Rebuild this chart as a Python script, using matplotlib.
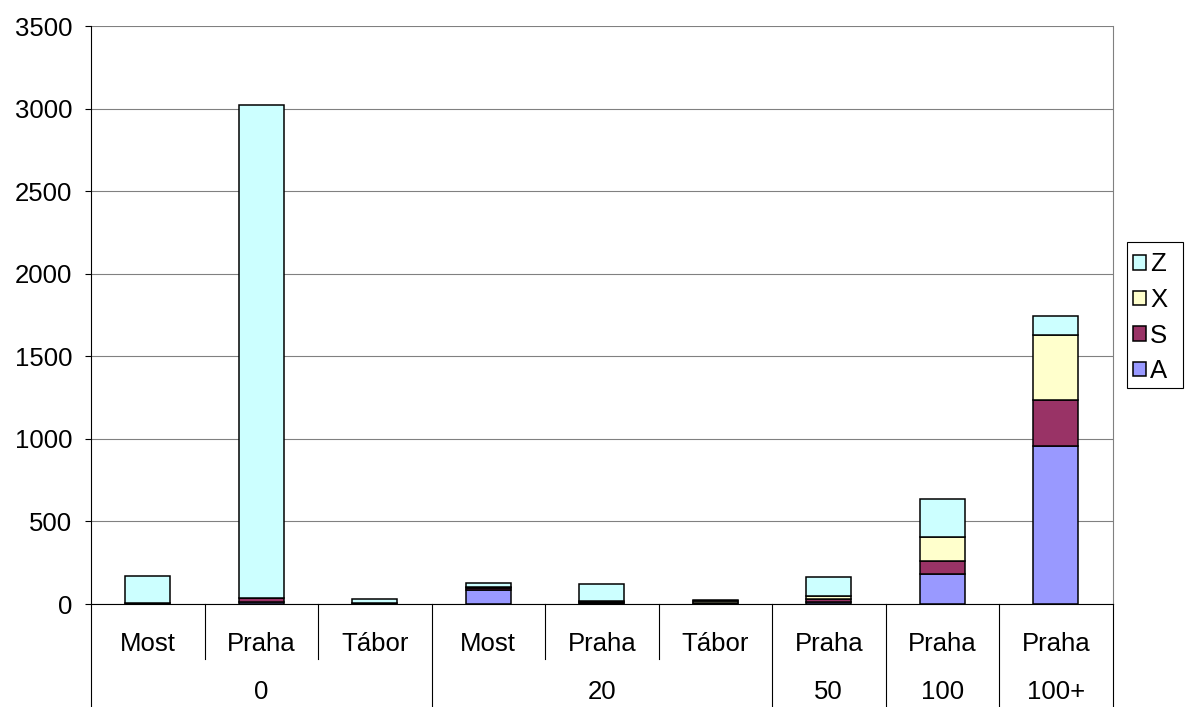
import numpy as np
import matplotlib
matplotlib.use("Agg")
import matplotlib.pyplot as plt
from matplotlib.transforms import blended_transform_factory
from matplotlib.patches import Patch, Rectangle

plt.rcParams['font.family'] = ['Liberation Sans', 'DejaVu Sans']

# data
inner_labels = ['Most', 'Praha', 'Tábor', 'Most', 'Praha', 'Tábor', 'Praha', 'Praha', 'Praha']
outer_labels = ['0', '20', '50', '100', '100+']
outer_spans = [(0, 3), (3, 6), (6, 7), (7, 8), (8, 9)]
series_names = ['A', 'S', 'X', 'Z']
A = [2, 15, 2, 85, 5, 2, 14, 182, 957]
S = [3, 20, 4, 12, 10, 3, 16, 78, 278]
X = [0, 3, 2, 8, 3, 15, 17, 148, 394]
Z = [165, 2982, 20, 20, 103, 2, 115, 228, 116]
colors = ['#9999FF', '#993366', '#FFFFCC', '#CCFFFF']

fs = 18.5
lw = 0.8

W, H = 1185, 707
fig = plt.figure(figsize=(W / 100, H / 100), dpi=100)
left, right, bottom, top = 91, 1112.5, 604, 26
ax = fig.add_axes([left / W, (H - bottom) / H, (right - left) / W, (bottom - top) / H])

x = np.arange(len(inner_labels))
base = np.zeros(len(x))
for name, vals, c in zip(series_names, [A, S, X, Z], colors):
    ax.bar(x, vals, width=0.4, bottom=base, color=c, edgecolor='black', linewidth=1.1, zorder=3, label=name)
    base += np.array(vals)

ax.set_xlim(-0.5, len(x) - 0.5)
ax.set_ylim(0, 3500)
ax.set_yticks(np.arange(0, 3501, 500))
ax.yaxis.grid(True, color='#808080', linewidth=lw)
ax.set_axisbelow(True)
ax.tick_params(axis='y', labelsize=fs, length=4.3, width=lw, direction='out', pad=9)
ax.set_xticks([])

ax.spines['top'].set_visible(False)
ax.spines['right'].set_color('#808080')
for sp in ax.spines.values():
    sp.set_linewidth(lw)

# category axis with two levels
ah = bottom - top
tr = blended_transform_factory(ax.transData, ax.transAxes)
inner_y = -(644 - bottom) / ah
outer_y = -(692 - bottom) / ah
inner_bot = -(659 - bottom) / ah
outer_bot = -(707 - bottom) / ah

for i, lab in enumerate(inner_labels):
    ax.text(i, inner_y, lab, transform=tr, ha='center', va='center', fontsize=fs)

outer_edges = sorted(set([s for s, e in outer_spans] + [e for s, e in outer_spans]))
for k in range(len(x) + 1):
    yb = outer_bot if k in outer_edges else inner_bot
    ax.plot([k - 0.5, k - 0.5], [0, yb], transform=tr, color='black', linewidth=lw, clip_on=False)

for lab, (s, e) in zip(outer_labels, outer_spans):
    n = e - s
    xc = s + (n - 1) // 2
    ax.text(xc, outer_y, lab, transform=tr, ha='center', va='center', fontsize=fs)

# legend
handles = [Patch(facecolor=c, edgecolor='black', linewidth=1.1, label=n) for n, c in zip(series_names, colors)][::-1]
leg = fig.legend(handles=handles, loc='upper left', bbox_to_anchor=(1127 / W, (H - 246) / H),
                 fontsize=fs, frameon=False, handlelength=0.5, handleheight=0.5,
                 handletextpad=0.15, borderpad=0.25, labelspacing=0.45, borderaxespad=0)
fig.patches.append(Rectangle((1127 / W, (H - 388) / H), 56 / W, 146 / H, transform=fig.transFigure,
                             facecolor='none', edgecolor='black', linewidth=lw))

fig.savefig('out.png', dpi=100)
